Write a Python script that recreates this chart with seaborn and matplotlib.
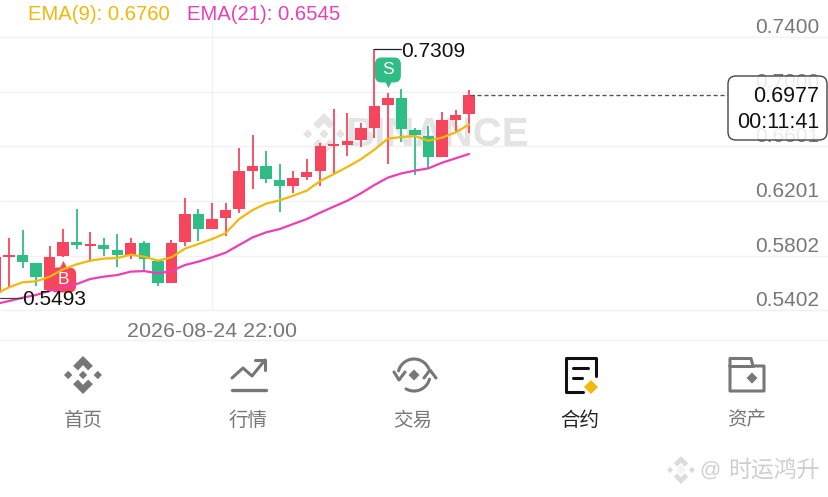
import numpy as np
import pandas as pd
import matplotlib
matplotlib.use("Agg")
import matplotlib.pyplot as plt
from matplotlib.patches import FancyBboxPatch, Polygon
import seaborn as sns

# --- DATA ---
opens = [.5526, .5794, .5806, .5750, .5551, .5799, .5904, .5875, .5877, .5843, .5809, .5892,
         .5760, .5604, .5901, .6104, .5994, .6079, .6143, .6423, .6454, .6354, .6313, .6376,
         .6420, .6603, .6608, .6647, .6735, .6903, .6952, .6723, .6676, .6523, .6796, .6837]
closes = [.5789, .5809, .5753, .5648, .5794, .5904, .5877, .5889, .5848, .5804, .5892, .5775,
          .5599, .5894, .6104, .5996, .6072, .6135, .6418, .6454, .6359, .6313, .6369, .6415,
          .6603, .6615, .6642, .6732, .6898, .6952, .6727, .6681, .6523, .6793, .6832, .6977]
highs = [.5789, .5928, .5989, .5750, .5872, .5996, .6140, .5975, .5928, .5957, .5928, .5911,
         .5770, .5916, .6226, .6140, .6184, .6189, .6589, .6684, .6567, .6469, .6420, .6506,
         .6623, .6874, .6842, .6774, .7309, .6993, .7020, .6732, .6749, .6852, .6866, .7015]
lows = [.5493, .5575, .5709, .5580, .5551, .5789, .5850, .5753, .5801, .5721, .5775, .5697,
        .5580, .5604, .5872, .5911, .5994, .5948, .6111, .6291, .6330, .6123, .6259, .6357,
        .6313, .6408, .6530, .6593, .6664, .6472, .6635, .6393, .6442, .6523, .6715, .6701]
ema9 = [.5521, .5570, .5607, .5614, .5648, .5702, .5738, .5765, .5780, .5784, .5809, .5794,
        .5765, .5789, .5853, .5887, .5923, .5965, .6069, .6135, .6182, .6206, .6240, .6277,
        .6347, .6398, .6450, .6506, .6576, .6657, .6669, .6676, .6642, .6664, .6703, .6760]
ema21 = [.5448, .5470, .5494, .5514, .5546, .5570, .5594, .5631, .5648, .5660, .5685, .5689,
         .5672, .5689, .5733, .5758, .5789, .5823, .5879, .5935, .5972, .5996, .6033, .6069,
         .6116, .6160, .6203, .6257, .6318, .6372, .6403, .6423, .6440, .6481, .6513, .6545]
price_ticks = [0.7400, 0.7000, 0.6601, 0.6201, 0.5802, 0.5402]
date_label = "2026-08-24 22:00"
date_index = 16
nav_labels = ["首页", "行情", "交易", "合约", "资产"]
nav_x = [83, 248, 413, 580, 747]
last_price = 0.6977
countdown = "00:11:41"
high_price = 0.7309
low_price = 0.5493

# --- STYLE ---
RED = "#f6465d"
GREEN = "#2ebd85"
YELLOW = "#f0b90b"
PINK = "#ec3fb4"
GRID = "#f1f1f1"
GREY = "#777777"
LATIN = ["Liberation Sans", "DejaVu Sans"]
CJK = ["Noto Sans CJK SC", "DejaVu Sans"]
PX_X = 1 / 13.53      # index units per pixel
PX_Y = 0.000731       # price units per pixel

sns.set_theme(style="white")
plt.rcParams["font.family"] = LATIN


def diamond(ui, cx, cy, r, color, **kw):
    ui.add_patch(Polygon([(cx, cy - r), (cx + r, cy), (cx, cy + r), (cx - r, cy)], fc=color, ec="none", **kw))


def binance_logo(ui, cx, cy, r, color):
    diamond(ui, cx, cy, r * 0.22, color)
    diamond(ui, cx - r * 0.78, cy, r * 0.22, color)
    diamond(ui, cx + r * 0.78, cy, r * 0.22, color)
    for s in (-1, 1):
        chevron = [(0, -1), (0.52, -0.48), (0.27, -0.24), (0, -0.52), (-0.27, -0.24), (-0.52, -0.48)]
        ui.add_patch(Polygon([(cx + r * a, cy + s * r * b * -1) for a, b in chevron], fc=color, ec="none"))


def badge(ax, i, price, tip_price, text, color, marker):
    w, h = 26 * PX_X, 25 * PX_Y
    ax.add_patch(FancyBboxPatch((i - w / 2, price - h / 2), w, h,
                                boxstyle="round,pad=0,rounding_size=0.5",
                                mutation_aspect=PX_Y / PX_X, fc=color, ec="none", zorder=3))
    ax.scatter([i], [tip_price], marker=marker, s=45, color=color, linewidth=0, zorder=3)
    ax.text(i, price, text, color="white", fontsize=12.5, ha="center", va="center", zorder=3)


df = pd.DataFrame({"i": np.arange(len(opens)), "open": opens, "close": closes, "high": highs,
                   "low": lows, "ema9": ema9, "ema21": ema21})
df["color"] = np.where(df["close"] >= df["open"], RED, GREEN)

fig = plt.figure(figsize=(8.29, 4.97), dpi=100, facecolor="white")

# background layer in pixels: watermark and bottom bar
ui = fig.add_axes([0, 0, 1, 1], zorder=0)
ui.set_xlim(0, 829)
ui.set_ylim(497, 0)
ui.axis("off")
binance_logo(ui, 324, 134, 21, "#e4e4e4")
ui.text(345, 135, "BINANCE", fontsize=29, fontweight="bold", color="#e4e4e4", va="center", ha="left")
ui.plot([0, 829], [340, 340], color=GRID, lw=1)

for x, label in zip(nav_x, nav_labels):
    ui.text(x, 420, label, fontsize=14, family=CJK, ha="center", va="center",
            color="#222222" if label == "合约" else GREY)

binance_logo(ui, 83, 375, 19, GREY)

# trend icon
ui.plot([232, 243, 252, 265], [378, 368, 376, 360], color=GREY, lw=2.2)
ui.plot([255, 265, 265], [360, 360, 370], color=GREY, lw=2.2)
ui.plot([232, 266], [389.5, 389.5], color=GREY, lw=2.4)

# swap icon
t = np.radians(np.linspace(195, 335, 30))
ui.plot(414 + 16 * np.cos(t), 375 + 16 * np.sin(t), color=GREY, lw=2.2)
t = np.radians(np.linspace(15, 120, 30))
ui.plot(414 + 16 * np.cos(t), 375 + 16 * np.sin(t), color=GREY, lw=2.2)
ui.plot([394, 399, 405], [372, 380, 372], color=GREY, lw=2.2)
ui.plot([424, 430, 436], [378, 370, 378], color=GREY, lw=2.2)
diamond(ui, 414, 375, 5.5, GREY)

# contract icon
ui.plot([596, 596, 566, 566, 583], [376, 358, 358, 392, 392], color="#111111", lw=2.2)
ui.plot([573, 588], [368, 368], color="#111111", lw=2.2)
ui.plot([573, 582], [378, 378], color="#111111", lw=2.2)
diamond(ui, 591, 387, 7, YELLOW)

# wallet icon
ui.plot([730, 730, 751, 753, 764, 764, 730, 730], [366, 358.5, 358.5, 366, 366, 391, 391, 366],
        color=GREY, lw=2.2, solid_joinstyle="round")
ui.plot([730, 753], [366, 366], color=GREY, lw=2.2)
diamond(ui, 752, 378, 5.5, GREY)

# image watermark
binance_logo(ui, 681, 470, 14, "#dcdcdc")
diamond(ui, 681, 470, 5, "#f4f4f4")
ui.text(710, 470, "@", fontsize=15, color="#cfcfcf", ha="center", va="center")
ui.text(728, 470, "时运鸿升", fontsize=16.5, family=CJK, color="#cfcfcf", ha="left", va="center")

# --- CHART ---
ax = fig.add_axes([0, (497 - 340) / 497, 1, 340 / 497], zorder=1)
ax.patch.set_visible(False)
ax.set_xlim(0.333, 61.6)
ax.set_ylim(0.74 - 303 * PX_Y, 0.74 + 37 * PX_Y)
sns.despine(ax=ax, left=True, bottom=True, top=True, right=True)

ax.hlines(price_ticks, 0.333, 61.6, color=GRID, lw=1, zorder=0)
ax.vlines(date_index, price_ticks[-1], ax.get_ylim()[1], color=GRID, lw=1, zorder=0)

ax.vlines(df["i"], df["low"], df["high"], colors=df["color"], lw=1.3, zorder=2)
ax.bar(df["i"], (df["close"] - df["open"]).abs(), bottom=df[["open", "close"]].min(axis=1),
       width=0.84, color=df["color"], linewidth=0, zorder=2)

# trade badges
badge(ax, 29, 0.7159, 0.7065, "S", GREEN, "v")
badge(ax, 5, 0.5624, 0.5733, "B", RED, "^")

sns.lineplot(data=df, x="i", y="ema9", color=YELLOW, lw=1.6, ax=ax, estimator=None, legend=False, zorder=4)
sns.lineplot(data=df, x="i", y="ema21", color=PINK, lw=1.6, ax=ax, estimator=None, legend=False, zorder=4)
ax.set_xlabel("")
ax.set_ylabel("")

# high / low price markers
ax.plot([28, 30], [high_price, high_price], color="#222222", lw=0.9, zorder=5)
ax.text(30.0, high_price - 0.0014, f"{high_price:.4f}", fontsize=15, color="#111111", va="center", ha="left", zorder=5)
ax.plot([0.333, 1.95], [low_price, low_price], color="#444444", lw=0.9, zorder=5)
ax.text(2.0, low_price - 0.0012, f"{low_price:.4f}", fontsize=15, color="#111111", va="center", ha="left", zorder=5)

# last price line
ax.hlines(last_price, 35.1, 54.1, color="#555555", lw=1, linestyles=(0, (3, 2)), zorder=3)

# axes labels
ax.yaxis.tick_right()
ax.set_yticks(price_ticks)
ax.set_yticklabels([f"{p:.4f}" for p in price_ticks])
ax.tick_params(axis="y", length=0, pad=-7, labelsize=15, labelcolor=GREY)
for lab in ax.get_yticklabels():
    lab.set_ha("right")
    lab.set_va("bottom")
ax.set_xticks([date_index])
ax.set_xticklabels([date_label])
ax.tick_params(axis="x", length=0, pad=-13, labelsize=15.4, labelcolor=GREY)

# legend row
ax.text(2.4, 0.7562, f"EMA(9): {ema9[-1]:.4f}", fontsize=14.6, color=YELLOW, va="center", ha="left", zorder=5)
ax.text(14.15, 0.7562, f"EMA(21): {ema21[-1]:.4f}", fontsize=14.6, color=PINK, va="center", ha="left", zorder=5)

# last price box
top = fig.add_axes([0, 0, 1, 1], zorder=2)
top.set_xlim(0, 829)
top.set_ylim(497, 0)
top.axis("off")
top.add_patch(FancyBboxPatch((733, 81), 89, 54, boxstyle="round,pad=5,rounding_size=8",
                             fc=(1, 1, 1, 0.86), ec="#444444", lw=1))
top.text(819, 97, f"{last_price:.4f}", fontsize=15.5, color="#111111", ha="right", va="center")
top.text(819, 123, countdown, fontsize=15.5, color="#111111", ha="right", va="center")

fig.savefig("out.png", dpi=100)
